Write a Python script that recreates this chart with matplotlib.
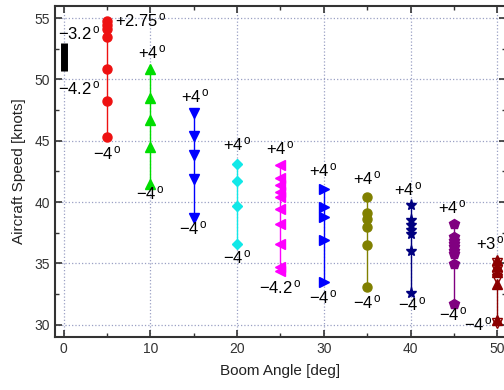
import matplotlib
matplotlib.use('Agg')
import matplotlib.pyplot as plt
from matplotlib.ticker import MultipleLocator

plt.rcParams['font.family'] = ['Liberation Sans', 'DejaVu Sans']
plt.rcParams['mathtext.fontset'] = 'custom'
plt.rcParams['mathtext.rm'] = 'Liberation Sans'
plt.rcParams['mathtext.it'] = 'Liberation Sans:italic'

# boom angle groups and measured speeds
angles = [5, 10, 15, 20, 25, 30, 35, 40, 45]
speeds = [
    [54.8, 54.45, 54.1, 53.5, 50.85, 48.25, 45.3],
    [50.85, 48.5, 46.7, 44.5, 41.5],
    [47.3, 45.4, 43.85, 41.9, 38.7],
    [43.1, 41.75, 39.7, 36.55],
    [43.0, 42.0, 41.4, 40.8, 40.4, 39.4, 38.2, 36.55, 34.7, 34.4],
    [41.05, 39.6, 38.75, 36.9, 33.5],
    [40.45, 39.1, 38.6, 38.0, 36.5, 33.1],
    [39.8, 38.5, 38.1, 37.75, 37.4, 36.05, 32.6],
    [38.25, 37.15, 36.85, 36.6, 36.3, 36.05, 35.8, 34.95, 31.65],
]
markers = ['o', '^', 'v', 'D', '<', '>', 'o', '*', 'p']
colors = ['#ee1111', '#00dd00', '#0000ff', '#11e8e8', '#ff00ff',
          '#0000ff', '#808000', '#000080', '#800080']
msizes = [6.5, 7, 7, 5.5, 7, 7, 6.5, 8, 7]

# 0 deg: bar only
bar0 = [50.7, 53.0]
# 50 deg group
up50 = [35.3, 34.8, 34.3, 33.3, 30.4]
down50 = [35.0, 34.5, 34.0, 33.75, 30.15]

# annotations (x, y, text)
ann = [
    (1.8, 53.75, '-3.2'), (1.8, 49.3, '-4.2'),
    (8.9, 54.85, '+2.75'), (5.0, 44.0, '-4'),
    (10.2, 52.2, '+4'), (10.0, 40.7, '-4'),
    (15.2, 48.65, '+4'), (15.0, 37.9, '-4'),
    (20.0, 44.7, '+4'), (20.0, 35.5, '-4'),
    (25.0, 44.35, '+4'), (25.0, 33.05, '-4.2'),
    (30.0, 42.6, '+4'), (30.0, 32.2, '-4'),
    (35.0, 41.9, '+4'), (35.0, 31.8, '-4'),
    (39.8, 41.0, '+4'), (40.2, 31.7, '-4'),
    (44.8, 39.55, '+4'), (44.9, 30.85, '-4'),
    (49.2, 36.6, '+3'), (47.8, 30.0, '-4'),
]

fig = plt.figure(figsize=(5.04, 3.9), dpi=100)
ax = fig.add_axes([0.109, 0.136, 0.895, 0.849])

ax.plot([0, 0], bar0, color='k', lw=5, solid_capstyle='butt', zorder=3)
for a, s, m, c, ms in zip(angles, speeds, markers, colors, msizes):
    ax.plot([a, a], [min(s), max(s)], color=c, lw=1, zorder=2)
    ax.plot([a] * len(s), s, ls='none', marker=m, color=c, ms=ms, zorder=3)

ax.plot([50, 50], [min(down50), max(up50)], color='#8b0000', lw=1, zorder=2)
ax.plot([50] * len(down50), down50, ls='none', marker='v', ms=7,
        mfc='white', mec='#8b0000', zorder=3)
ax.plot([50] * len(up50), up50, ls='none', marker='^', ms=7,
        color='#8b0000', zorder=4)

for x, y, t in ann:
    t = t.replace('-', '\u2212')
    ax.text(x, y, r'$\mathrm{' + t + r'}^{\,\mathrm{o}}$', fontsize=12,
            ha='center', va='center', zorder=5)

ax.set_xlim(-1, 51)
ax.set_ylim(29, 56)
ax.xaxis.set_major_locator(MultipleLocator(10))
ax.xaxis.set_minor_locator(MultipleLocator(5))
ax.yaxis.set_major_locator(MultipleLocator(5))
ax.yaxis.set_minor_locator(MultipleLocator(2.5))
ax.tick_params(which='both', direction='in', top=True, right=True,
               labelsize=10, labelcolor='#333333', color='#333333')
ax.tick_params(which='major', length=5, width=1.2)
ax.tick_params(which='minor', length=3, width=1)
ax.grid(True, which='major', ls=':', color='#9aa0c4', lw=0.9)
for sp in ax.spines.values():
    sp.set_linewidth(1.5)
    sp.set_color('#333333')

ax.set_xlabel('Boom Angle [deg]', fontsize=11, color='#222222', labelpad=6)
ax.set_ylabel('Aircraft Speed [knots]', fontsize=11, color='#222222', labelpad=6)

fig.savefig('out.png', dpi=100)
